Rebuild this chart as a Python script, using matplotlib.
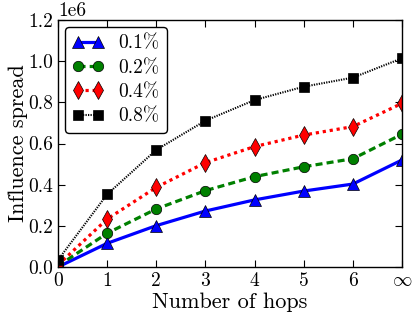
import matplotlib
matplotlib.use("Agg")
import matplotlib.pyplot as plt

plt.rcParams['font.family'] = 'cmr10'
plt.rcParams['mathtext.fontset'] = 'cm'
plt.rcParams['axes.unicode_minus'] = False
plt.rcParams['axes.formatter.use_mathtext'] = False

hops = [0, 1, 2, 3, 4, 5, 6, 7]
tick_labels = ['0', '1', '2', '3', '4', '5', '6', r'$\infty$']
s01 = [0.0, 0.115e6, 0.201e6, 0.272e6, 0.326e6, 0.369e6, 0.403e6, 0.520e6]
s02 = [0.005e6, 0.164e6, 0.282e6, 0.371e6, 0.439e6, 0.487e6, 0.526e6, 0.645e6]
s04 = [0.010e6, 0.233e6, 0.387e6, 0.507e6, 0.585e6, 0.641e6, 0.682e6, 0.795e6]
s08 = [0.034e6, 0.353e6, 0.569e6, 0.711e6, 0.811e6, 0.876e6, 0.920e6, 1.014e6]
labels = ['0.1%', '0.2%', '0.4%', '0.8%']

fig = plt.figure(figsize=(4.15, 3.12), dpi=100)
ax = fig.add_axes([58/415, 1-267/312, (402-58)/415, (267-20)/312])

ax.plot(hops, s01, color='blue', ls='-', lw=2.3, marker='^', ms=8, mec='black', mew=0.5, label=labels[0])
ax.plot(hops, s02, color='green', ls=(0, (2.2, 1.3)), lw=2.3, marker='o', ms=7.5, mec='black', mew=0.5, label=labels[1])
ax.plot(hops, s04, color='red', ls=(0, (1, 1.2)), lw=2.3, marker='d', ms=9, mec='black', mew=0.5, label=labels[2])
ax.plot(hops, s08, color='black', ls=(0, (0.6, 0.6)), lw=1.5, marker='s', ms=7, mec='black', mew=0.5, label=labels[3])

ax.set_xlim(0, 7)
ax.set_ylim(0, 1.2e6)
ax.set_xticks(hops)
ax.set_xticklabels(tick_labels)
ax.set_yticks([0, 0.2e6, 0.4e6, 0.6e6, 0.8e6, 1.0e6, 1.2e6])
ax.tick_params(labelsize=14, direction='in', top=True, right=True, length=5)
ax.set_xlabel('Number of hops', fontsize=16, labelpad=2)
ax.set_ylabel('Influence spread', fontsize=16, labelpad=0)
ax.yaxis.get_offset_text().set_fontsize(14)
for sp in ax.spines.values():
    sp.set_linewidth(1.0)

leg = ax.legend(loc='upper left', fontsize=14, numpoints=2, fancybox=True,
                framealpha=1, edgecolor='black', handlelength=1.6,
                borderpad=0.4, labelspacing=0.33, handletextpad=0.75,
                borderaxespad=0.35)
leg.get_frame().set_linewidth(1.0)

fig.savefig('out.png', dpi=100)
